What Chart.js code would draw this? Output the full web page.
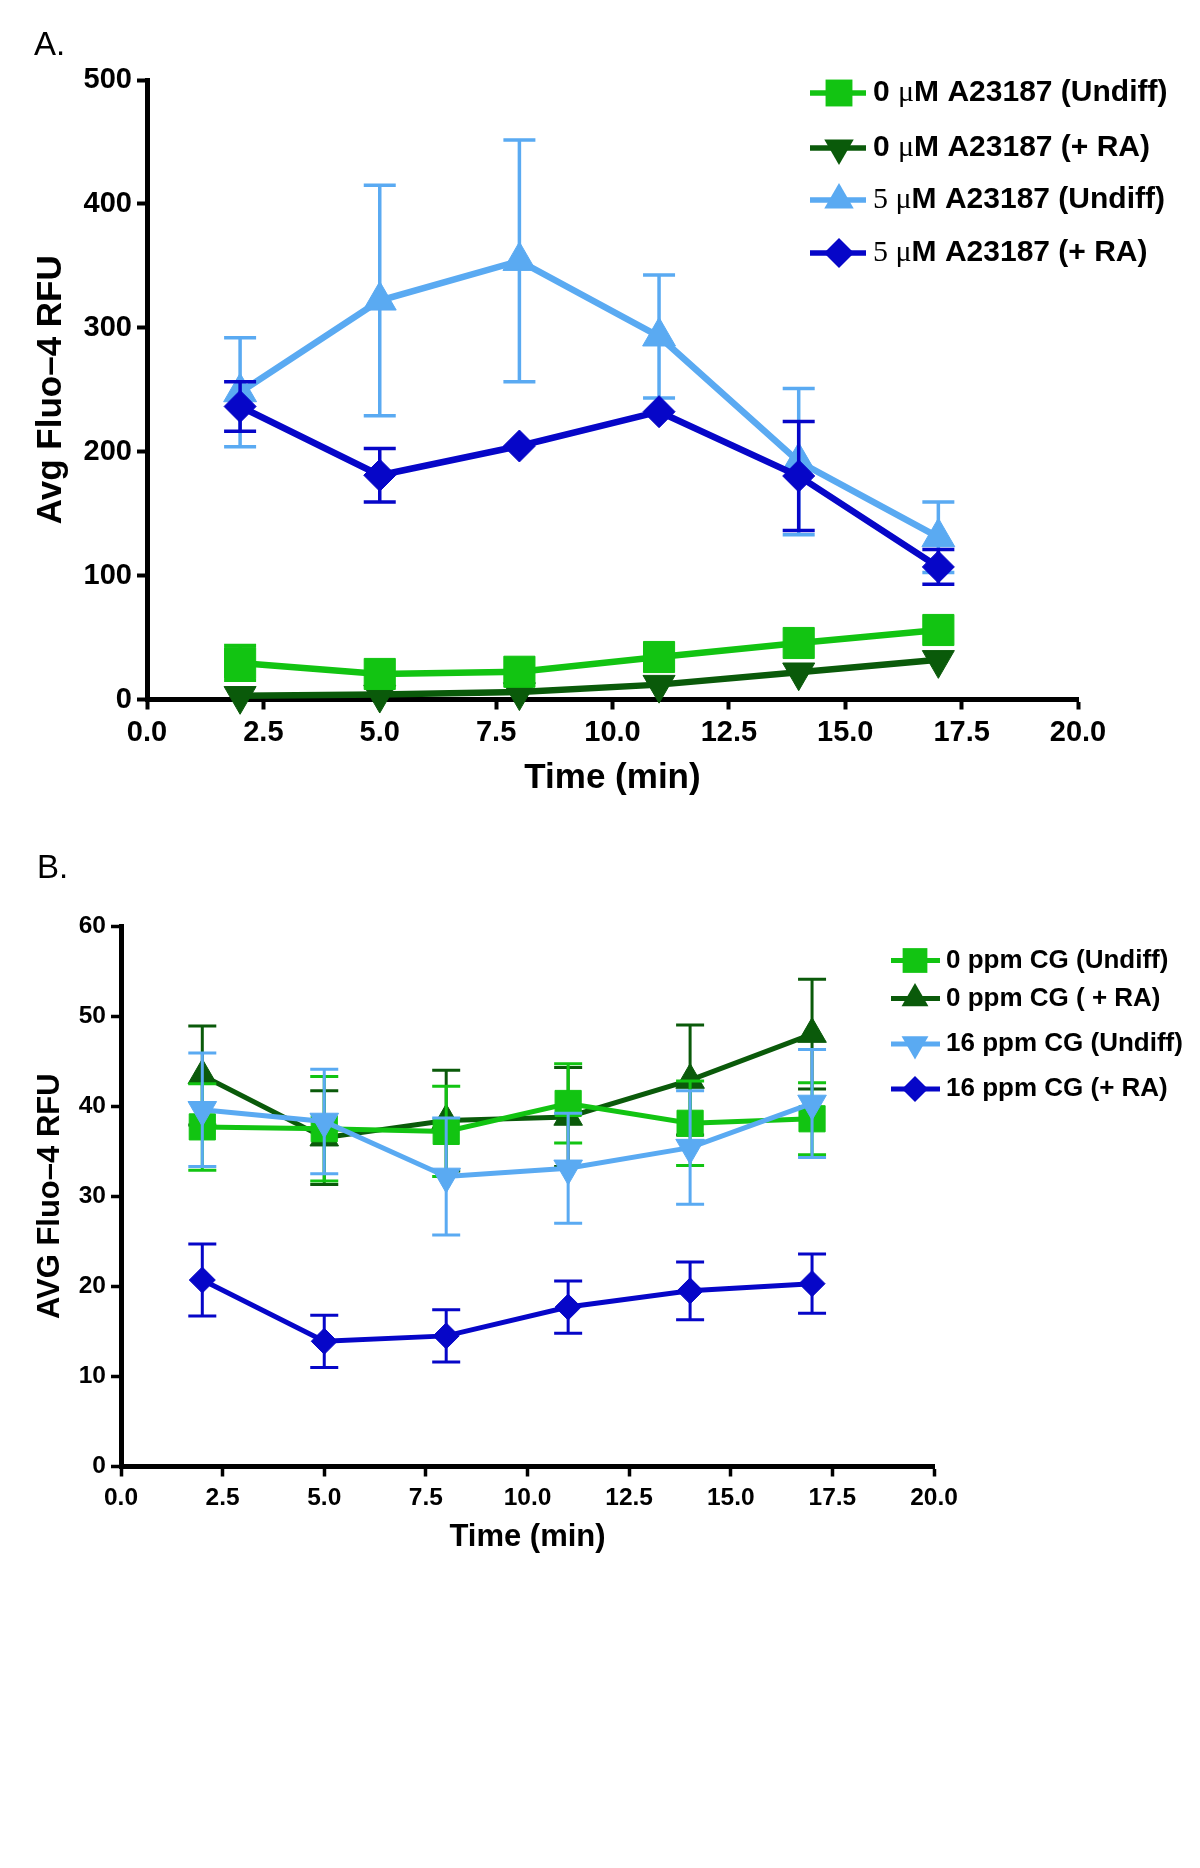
<!DOCTYPE html>
<html><head><meta charset="utf-8">
<script src="https://cdn.jsdelivr.net/npm/chart.js@4.4.1/dist/chart.umd.min.js"></script>
<style>
html,body{margin:0;padding:0;background:#fff;}
body{width:1200px;height:1868px;position:relative;overflow:hidden;}
canvas{position:absolute;left:0;}
#cA{top:0;}
#cB{top:830px;}
</style></head><body>
<canvas id="cA" width="1200" height="830"></canvas>
<canvas id="cB" width="1200" height="1038"></canvas>
<script>
// ================= DATA =================
const timeMin = [2, 5, 8, 11, 14, 17];
const xTicks = [0, 2.5, 5, 7.5, 10, 12.5, 15, 17.5, 20];
const yTicksA = [0, 100, 200, 300, 400, 500];
const yTicksB = [0, 10, 20, 30, 40, 50, 60];

// Panel A (A23187)
const namesA = ['0 μM A23187 (Undiff)', '0 μM A23187 (+ RA)', '5 μM A23187 (Undiff)', '5 μM A23187 (+ RA)'];
const a0Undiff     = [29.5, 20.6, 22.4, 34.3, 45.6, 56.1];
const a0UndiffErr  = [14, null, null, null, null, null];
const a0RA         = [3, 4, 6, 12, 22, 32];
const a0RAErr      = [null, null, null, null, null, null];
const a5Undiff     = [248, 322, 354, 293, 192, 131];
const a5UndiffErr  = [44, 93, 97.5, 49.6, 59, 28.5];
const a5RA         = [236.5, 181, 204.6, 232.3, 180.4, 107];
const a5RAErr      = [20, 21.5, null, null, 44, 14];

// Panel B (CG)
const namesB = ['0 ppm CG (Undiff)', '0 ppm CG ( + RA)', '16 ppm CG (Undiff)', '16 ppm CG (+ RA)'];
const b0Undiff     = [37.7, 37.5, 37.2, 40.3, 38.1, 38.6];
const b0UndiffErr  = [4.8, 5.8, 5.0, 4.4, 4.7, 4.0];
const b0RA         = [43.4, 36.5, 38.4, 38.8, 42.9, 48.0];
const b0RAErr      = [5.5, 5.2, 5.6, 5.5, 6.1, 6.1];
const b16Undiff    = [39.6, 38.3, 32.2, 33.1, 35.4, 40.3];
const b16UndiffErr = [6.3, 5.8, 6.5, 6.1, 6.3, 6.0];
const b16RA        = [20.7, 13.9, 14.5, 17.7, 19.5, 20.3];
const b16RAErr     = [4.0, 2.9, 2.9, 2.9, 3.2, 3.3];

// ================= STYLE =================
const SANS = '"Liberation Sans", Arial, Helvetica, sans-serif';
const SERIF = '"Liberation Serif", "Times New Roman", serif';
const GREEN = '#12C412', DKGREEN = '#0A5A0A', LTBLUE = '#5AAAF2', DKBLUE = '#0606C8';
Chart.defaults.font.family = SANS;
Chart.defaults.color = '#000';

function hasFont(name) {
  const c = document.createElement('canvas').getContext('2d');
  c.font = 'bold 40px monospace'; const w1 = c.measureText('500 Time 12.5').width;
  c.font = 'bold 40px "' + name + '", monospace'; const w2 = c.measureText('500 Time 12.5').width;
  return Math.abs(w1 - w2) > 0.5;
}
const NARROW_OK = hasFont('Liberation Sans Narrow');
const TICKFAM = NARROW_OK ? '"Liberation Sans Narrow", ' + SANS : SANS;

function pts(vals) { return vals.map((v, i) => ({x: timeMin[i], y: v})); }

function drawMarker(ctx, style, x, y, r, color) {
  ctx.beginPath();
  if (style === 'rect') { const s = r * Math.SQRT1_2; ctx.rect(x - s, y - s, 2 * s, 2 * s); }
  else if (style === 'triUp') { ctx.moveTo(x, y - r); ctx.lineTo(x + r * 0.866, y + r / 2); ctx.lineTo(x - r * 0.866, y + r / 2); ctx.closePath(); }
  else if (style === 'triDown') { ctx.moveTo(x, y + r); ctx.lineTo(x + r * 0.866, y - r / 2); ctx.lineTo(x - r * 0.866, y - r / 2); ctx.closePath(); }
  else if (style === 'diamond') { ctx.moveTo(x - r, y); ctx.lineTo(x, y - r); ctx.lineTo(x + r, y); ctx.lineTo(x, y + r); ctx.closePath(); }
  ctx.fillStyle = color; ctx.fill();
}

function makeErrorBars(st) {
  return {
    id: 'errorBars',
    beforeDatasetDraw(chart, args) {
      const ds = chart.data.datasets[args.index];
      const errs = ds.errs; if (!errs) return;
      const ys = chart.scales.y, ctx = chart.ctx;
      ctx.save();
      ctx.strokeStyle = ds.borderColor; ctx.lineWidth = st.width; ctx.lineCap = 'butt';
      args.meta.data.forEach((el, i) => {
        const e = errs[i]; if (e == null) return;
        const v = ds.data[i].y;
        const yt = ys.getPixelForValue(v + e), yb = ys.getPixelForValue(v - e);
        const x = el.x, h = st.cap / 2;
        ctx.beginPath();
        ctx.moveTo(x, yt); ctx.lineTo(x, yb);
        ctx.moveTo(x - h, yt); ctx.lineTo(x + h, yt);
        ctx.moveTo(x - h, yb); ctx.lineTo(x + h, yb);
        ctx.stroke();
      });
      ctx.restore();
    }
  };
}

function makeDecorations(L) {
  return {
    id: 'decorations',
    afterDraw(chart) {
      const ctx = chart.ctx;
      ctx.save();
      ctx.font = L.panelFont; ctx.fillStyle = '#000'; ctx.textBaseline = 'alphabetic'; ctx.textAlign = 'left';
      ctx.fillText(L.panel, L.panelX, L.panelY);
      chart.data.datasets.forEach((ds, i) => {
        const y = L.rows[i];
        ctx.strokeStyle = ds.borderColor; ctx.lineWidth = L.lineWidth;
        ctx.beginPath(); ctx.moveTo(L.x0, y); ctx.lineTo(L.x1, y); ctx.stroke();
        drawMarker(ctx, ds.markerKind, L.mx, y, L.r[ds.markerKind], ds.borderColor);
        let x = L.tx;
        ctx.textBaseline = 'middle'; ctx.fillStyle = '#000'; ctx.textAlign = 'left';
        const text = ds.label;
        const muPos = text.indexOf('μ');
        const runs = [];
        for (let k = 0; k < text.length; k++) {
          const ch = text[k];
          let serif = L.serifMu && ch === 'μ';
          if (L.serifLead[i] && muPos >= 0 && k < muPos) serif = true;
          if (runs.length && runs[runs.length - 1].serif === serif) runs[runs.length - 1].t += ch;
          else runs.push({t: ch, serif});
        }
        runs.forEach(rn => {
          ctx.font = rn.serif ? L.serifFont : L.font;
          ctx.fillText(rn.t, x, y);
          x += ctx.measureText(rn.t).width;
        });
      });
      ctx.restore();
    }
  };
}

function makeChart(id, cfg) {
  const ds = cfg.series.map((s) => ({
    label: s.name, data: pts(s.vals), errs: s.errs,
    borderColor: s.color, backgroundColor: s.color,
    borderWidth: cfg.lineWidth, pointRadius: s.r, pointHoverRadius: s.r,
    pointStyle: s.kind === 'rect' ? 'rect' : (s.kind === 'diamond' ? 'rectRot' : 'triangle'),
    pointRotation: s.kind === 'triDown' ? 180 : 0,
    pointBorderWidth: 1, pointBackgroundColor: s.color, pointBorderColor: s.color,
    markerKind: s.kind, order: s.order, clip: false, tension: 0, fill: false
  }));
  const axisCommon = () => ({
    type: 'linear', z: 1,
    border: {display: true, color: '#000', width: cfg.axisWidth},
    grid: {display: true, drawOnChartArea: false, drawTicks: true, tickLength: cfg.tickLen, tickWidth: cfg.tickWidth, tickColor: '#000', color: '#000'},
  });
  const tf = NARROW_OK ? cfg.tickFontNarrow : cfg.tickFont;
  return new Chart(document.getElementById(id), {
    type: 'line',
    data: {datasets: ds},
    options: {
      responsive: false, animation: false, events: [],
      layout: {padding: cfg.padding},
      plugins: {legend: {display: false}, tooltip: {enabled: false}},
      scales: {
        x: Object.assign(axisCommon(), {
          min: 0, max: 20,
          afterBuildTicks: s => { s.ticks = xTicks.map(v => ({value: v})); },
          afterFit: s => { s.height = cfg.xHeight; },
          ticks: {autoSkip: false, maxRotation: 0, minRotation: 0, padding: NARROW_OK ? cfg.xTickPadN : cfg.xTickPad, color: '#000',
                  font: {family: TICKFAM, size: tf, weight: 'bold'}, callback: v => Number(v).toFixed(1)},
          title: {display: true, text: 'Time (min)', color: '#000', font: {size: cfg.titleFont, weight: 'bold'},
                  padding: {top: 0, bottom: cfg.xTitlePad}}
        }),
        y: Object.assign(axisCommon(), {
          min: 0, max: cfg.yMax,
          afterBuildTicks: s => { s.ticks = cfg.yTicks.map(v => ({value: v})); },
          afterFit: s => { s.width = cfg.yWidth; },
          ticks: {autoSkip: false, padding: cfg.yTickPad, color: '#000', font: {family: TICKFAM, size: tf, weight: 'bold'}},
          title: {display: true, text: cfg.yTitle, color: '#000', font: {size: cfg.titleFont, weight: 'bold'},
                  padding: {top: cfg.yTitlePad, bottom: 0}}
        })
      }
    },
    plugins: [makeErrorBars(cfg.err), makeDecorations(cfg.legend)]
  });
}

makeChart('cA', {
  padding: {top: 80, right: 122, left: 0, bottom: 0},
  yWidth: 147, xHeight: 130.5, yMax: 500, yTicks: yTicksA,
  tickFont: 29, tickFontNarrow: 33.5, titleFont: 35, lineWidth: 6.5, axisWidth: 5, tickLen: 10, tickWidth: 4,
  xTickPad: 6, xTickPadN: 3, yTickPad: 5, xTitlePad: 31, yTitlePad: 30.5,
  yTitle: 'Avg Fluo–4 RFU',
  err: {width: 3.5, cap: 32},
  series: [
    {name: namesA[0], vals: a0Undiff, errs: a0UndiffErr, color: GREEN,   kind: 'rect',    r: 22, order: 0},
    {name: namesA[1], vals: a0RA,     errs: a0RAErr,     color: DKGREEN, kind: 'triDown', r: 18.5, order: 1},
    {name: namesA[2], vals: a5Undiff, errs: a5UndiffErr, color: LTBLUE,  kind: 'triUp',   r: 19, order: 3},
    {name: namesA[3], vals: a5RA,     errs: a5RAErr,     color: DKBLUE,  kind: 'diamond', r: 16, order: 2}
  ],
  legend: {
    panel: 'A.', panelFont: '33px ' + SANS, panelX: 34, panelY: 55,
    rows: [93, 148, 200, 253], x0: 810, x1: 866, mx: 839, tx: 873, lineWidth: 5.5,
    r: {rect: 19, triUp: 17, triDown: 17, diamond: 15},
    font: 'bold 30px ' + SANS, serifFont: '30px ' + SERIF, serifMu: true, serifLead: [false, false, true, true]
  }
});

makeChart('cB', {
  padding: {top: 96, right: 266, left: 0, bottom: 300},
  yWidth: 121, xHeight: 101.5, yMax: 60, yTicks: yTicksB,
  tickFont: 24.5, tickFontNarrow: 29.5, titleFont: 31, lineWidth: 5, axisWidth: 5, tickLen: 10, tickWidth: 3.5,
  xTickPad: 7, xTickPadN: 4, yTickPad: 5, xTitlePad: 11.6, yTitlePad: 31.9,
  yTitle: 'AVG Fluo–4 RFU',
  err: {width: 3, cap: 28},
  series: [
    {name: namesB[0], vals: b0Undiff,  errs: b0UndiffErr,  color: GREEN,   kind: 'rect',    r: 18.5, order: 1},
    {name: namesB[1], vals: b0RA,      errs: b0RAErr,      color: DKGREEN, kind: 'triUp',   r: 16.5, order: 2},
    {name: namesB[2], vals: b16Undiff, errs: b16UndiffErr, color: LTBLUE,  kind: 'triDown', r: 16.5, order: 0},
    {name: namesB[3], vals: b16RA,     errs: b16RAErr,     color: DKBLUE,  kind: 'diamond', r: 13, order: 3}
  ],
  legend: {
    panel: 'B.', panelFont: '33px ' + SANS, panelX: 37, panelY: 48,
    rows: [130.5, 168.6, 214, 259], x0: 891, x1: 940, mx: 915, tx: 946, lineWidth: 5,
    r: {rect: 17.5, triUp: 15.5, triDown: 15.5, diamond: 13},
    font: 'bold 26px ' + SANS, serifFont: '26px ' + SERIF, serifMu: false, serifLead: [false, false, false, false]
  }
});
</script>
</body></html>
